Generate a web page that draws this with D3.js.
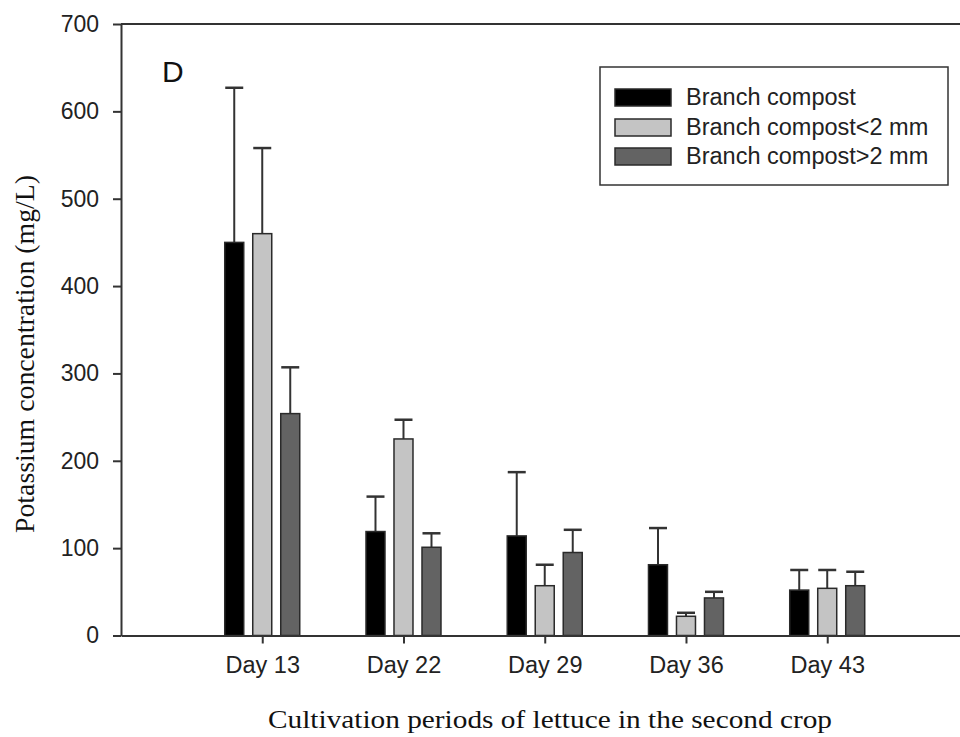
<!DOCTYPE html>
<html>
<head>
<meta charset="utf-8">
<script src="https://cdn.jsdelivr.net/npm/d3@7"></script>
<style>
  body { margin: 0; background: #fff; }
  svg { display: block; }
</style>
</head>
<body>
<div id="chart"></div>
<script>
// data
var days = ["Day 13", "Day 22", "Day 29", "Day 36", "Day 43"]
var seriesNames = ["Branch compost", "Branch compost<2 mm", "Branch compost>2 mm"]
var branch = [450, 119, 114, 81, 52]
var branchErr = [627, 159, 187, 123, 75]
var fine = [460, 225, 57, 22, 54]
var fineErr = [558, 247, 81, 26, 75]
var coarse = [254, 101, 95, 43, 57]
var coarseErr = [307, 117, 121, 50, 73]
var yTicks = [0, 100, 200, 300, 400, 500, 600, 700]

var colors = ["#000000", "#c4c4c4", "#636363"]
var values = [branch, fine, coarse]
var errTops = [branchErr, fineErr, coarseErr]

var width = 960, height = 737
var plotLeft = 121, plotRight = 960, plotTop = 24, plotBottom = 635.5

var svg = d3.select("#chart").append("svg")
  .attr("width", width)
  .attr("height", height)

var x = d3.scaleLinear().domain([0, 5.94]).range([plotLeft, plotRight])
var y = d3.scaleLinear().domain([0, 700]).range([plotBottom, plotTop])
var barW = 19, gap = 28

// bars and error bars
values.forEach(function (vals, s) {
  var g = svg.append("g")
  g.selectAll("line.err")
    .data(vals)
    .join("line")
    .attr("class", "err")
    .attr("x1", (d, i) => x(i + 1) + (s - 1) * gap)
    .attr("x2", (d, i) => x(i + 1) + (s - 1) * gap)
    .attr("y1", d => y(d))
    .attr("y2", (d, i) => y(errTops[s][i]))
    .attr("stroke", "#333")
    .attr("stroke-width", 2)
  g.selectAll("line.cap")
    .data(vals)
    .join("line")
    .attr("class", "cap")
    .attr("x1", (d, i) => x(i + 1) + (s - 1) * gap - 9)
    .attr("x2", (d, i) => x(i + 1) + (s - 1) * gap + 9)
    .attr("y1", (d, i) => y(errTops[s][i]))
    .attr("y2", (d, i) => y(errTops[s][i]))
    .attr("stroke", "#333")
    .attr("stroke-width", 2.5)
  g.selectAll("rect")
    .data(vals)
    .join("rect")
    .attr("x", (d, i) => x(i + 1) + (s - 1) * gap - barW / 2)
    .attr("width", barW)
    .attr("y", d => y(d))
    .attr("height", d => y(0) - y(d))
    .attr("fill", colors[s])
    .attr("stroke", "#2a2a2a")
    .attr("stroke-width", 1.5)
})

// axes
var yAxis = svg.append("g")
  .attr("transform", `translate(${plotLeft},0)`)
  .call(d3.axisLeft(y).tickValues(yTicks).tickSize(8).tickSizeOuter(0).tickPadding(14))
yAxis.selectAll("text")
  .attr("font-family", "Liberation Sans, Arial, sans-serif")
  .attr("font-size", 23)
  .attr("fill", "#222")

var xAxis = svg.append("g")
  .attr("transform", `translate(0,${plotBottom})`)
  .call(d3.axisBottom(x).tickValues([1, 2, 3, 4, 5]).tickFormat(d => days[d - 1])
    .tickSize(8).tickSizeOuter(0).tickPadding(13))
xAxis.selectAll("text")
  .attr("font-family", "Liberation Sans, Arial, sans-serif")
  .attr("font-size", 23.5)
  .attr("fill", "#222")

svg.selectAll(".domain, .tick line")
  .attr("stroke", "#333")
  .attr("stroke-width", 2)

// top frame line
svg.append("line")
  .attr("x1", plotLeft).attr("x2", plotRight)
  .attr("y1", plotTop).attr("y2", plotTop)
  .attr("stroke", "#333")
  .attr("stroke-width", 2)

// panel letter
svg.append("text")
  .attr("x", 162)
  .attr("y", 82)
  .attr("font-family", "Liberation Sans, Arial, sans-serif")
  .attr("font-size", 30)
  .attr("fill", "#111")
  .text("D")

// axis titles
svg.append("text")
  .attr("transform", "translate(34,354) rotate(-90)")
  .attr("text-anchor", "middle")
  .attr("font-family", "Liberation Serif, Times New Roman, serif")
  .attr("font-size", 27)
  .attr("textLength", 358)
  .attr("lengthAdjust", "spacingAndGlyphs")
  .attr("fill", "#111")
  .text("Potassium concentration (mg/L)")

svg.append("text")
  .attr("x", 550)
  .attr("y", 728)
  .attr("text-anchor", "middle")
  .attr("font-family", "Liberation Serif, Times New Roman, serif")
  .attr("font-size", 26)
  .attr("textLength", 564)
  .attr("lengthAdjust", "spacingAndGlyphs")
  .attr("fill", "#111")
  .text("Cultivation periods of lettuce in the second crop")

// legend
var legend = svg.append("g")
legend.append("rect")
  .attr("x", 600).attr("y", 67)
  .attr("width", 348).attr("height", 118)
  .attr("fill", "#fff")
  .attr("stroke", "#333")
  .attr("stroke-width", 1.5)

var rowY = [97, 127, 156]
seriesNames.forEach(function (name, i) {
  legend.append("rect")
    .attr("x", 615).attr("y", rowY[i] - 8)
    .attr("width", 56).attr("height", 17)
    .attr("fill", colors[i])
    .attr("stroke", "#2a2a2a")
    .attr("stroke-width", 1.5)
  legend.append("text")
    .attr("x", 686)
    .attr("y", rowY[i] + 8)
    .attr("font-family", "Liberation Sans, Arial, sans-serif")
    .attr("font-size", 23.5)
    .attr("fill", "#222")
    .text(name)
})
</script>
</body>
</html>
